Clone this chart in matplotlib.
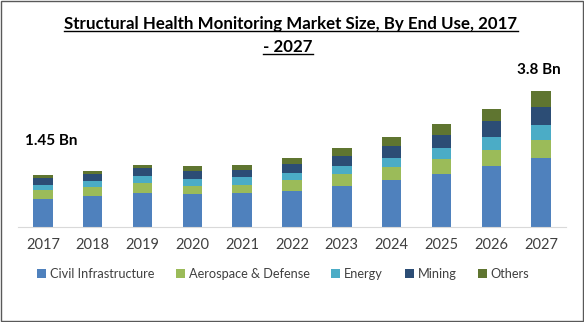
import numpy as np
import matplotlib.pyplot as plt
from matplotlib.patches import Rectangle
from matplotlib.lines import Line2D

years = ['2017', '2018', '2019', '2020', '2021', '2022', '2023', '2024', '2025', '2026', '2027']
segments = ['Civil Infrastructure', 'Aerospace & Defense', 'Energy', 'Mining', 'Others']

# market size by end use, USD Bn
civil = [0.79, 0.86, 0.94, 0.92, 0.94, 1.00, 1.14, 1.31, 1.48, 1.70, 1.92]
aero = [0.24, 0.26, 0.28, 0.24, 0.25, 0.31, 0.34, 0.36, 0.42, 0.45, 0.52]
energy = [0.14, 0.16, 0.20, 0.18, 0.20, 0.20, 0.22, 0.26, 0.31, 0.36, 0.43]
mining = [0.19, 0.20, 0.22, 0.22, 0.22, 0.26, 0.28, 0.34, 0.36, 0.45, 0.50]
others = [0.09, 0.10, 0.11, 0.14, 0.14, 0.16, 0.22, 0.25, 0.31, 0.34, 0.43]

colors = ['#4f81bd', '#9bbb59', '#4bacc6', '#2c4d75', '#5f7530']
font = ['Lato', 'DejaVu Sans']
plt.rcParams['font.family'] = font

fig = plt.figure(figsize=(5.84, 3.22), dpi=100)
ax = fig.add_axes([18 / 584, 95 / 322, 548 / 584, 167 / 322])

x = np.arange(len(years))
bottom = np.zeros(len(years))
for name, vals, c in zip(segments, [civil, aero, energy, mining, others], colors):
    ax.bar(x, vals, width=0.39, bottom=bottom, color=c, label=name)
    bottom += np.array(vals)

ax.set_xlim(-0.5, len(years) - 0.5)
ax.set_ylim(0, 167 / 135.7 * 3.8)
ax.set_xticks(x)
ax.set_xticklabels(years, fontsize=10.5, color='#404040')
ax.tick_params(axis='x', length=0, pad=8)
ax.set_yticks([])
for s in ['top', 'right', 'left']:
    ax.spines[s].set_visible(False)
ax.spines['bottom'].set_color('#d9d9d9')

# total labels on first and last year
ax.annotate('1.45 Bn', (x[0], bottom[0]), xytext=(8, 34), textcoords='offset pixels',
            ha='center', va='center', fontsize=11, fontweight='bold')
ax.annotate('3.8 Bn', (x[-1], bottom[-1]), xytext=(-2, 21), textcoords='offset pixels',
            ha='center', va='center', fontsize=11, fontweight='bold')

leg = fig.legend(loc='center', bbox_to_anchor=(0.485, 1 - 274 / 322), ncol=5, frameon=False,
                 fontsize=9.2, handlelength=0.7, handleheight=0.7, handletextpad=0.3,
                 columnspacing=1.7, labelcolor='#404040')

t1 = fig.text(291 / 584, 1 - 24 / 322, 'Structural Health Monitoring Market Size, By End Use, 2017',
              ha='center', va='center', fontsize=12.2, fontweight='bold')
t2 = fig.text(288 / 584, 1 - 47 / 322, '- 2027', ha='center', va='center',
              fontsize=12.2, fontweight='bold')

# underline the title lines
fig.canvas.draw()
r = fig.canvas.get_renderer()
for t in (t1, t2):
    bb = t.get_window_extent(r).transformed(fig.transFigure.inverted())
    y = bb.y0 + 0.002
    fig.add_artist(Line2D([bb.x0, bb.x1], [y, y], transform=fig.transFigure,
                          color='black', lw=1))

fig.add_artist(Rectangle((0.001, 0.002), 0.997, 0.995, transform=fig.transFigure,
                         fill=False, edgecolor='#595959', lw=1))

fig.savefig('out.png', dpi=100)
